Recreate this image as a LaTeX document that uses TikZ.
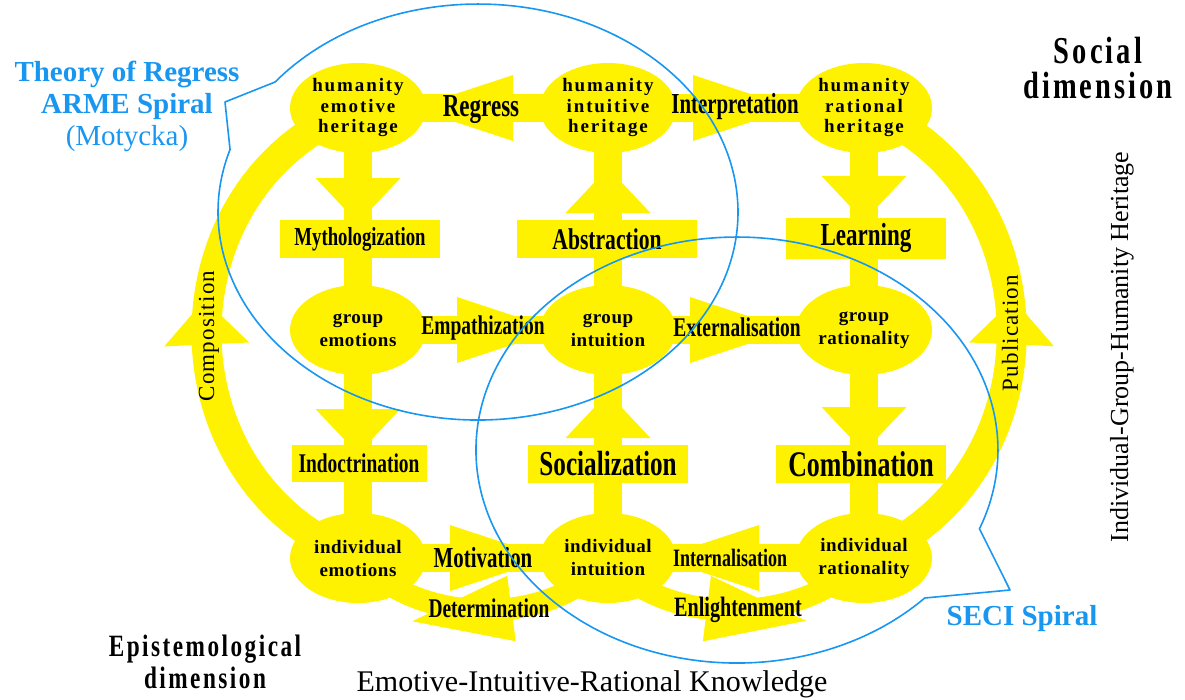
\documentclass[tikz,border=0pt]{standalone}
\usepackage{fontspec}
\setmainfont{Liberation Serif}
\newfontfamily\stagefont[FakeStretch=0.72]{Liberation Serif}
\newfontfamily\humfont[LetterSpace=10]{Liberation Serif}
\newfontfamily\cellfont[LetterSpace=3]{Liberation Serif}
\newfontfamily\loopfont[LetterSpace=5]{Liberation Serif}
\newfontfamily\dimfont[FakeStretch=0.75,LetterSpace=8]{Liberation Serif}
\usetikzlibrary{shapes.geometric,decorations.markings,backgrounds}
\definecolor{spiralblue}{RGB}{25,150,240}
\newcommand\fs[2]{\fontsize{#1}{#2}\selectfont}

\tikzset{
  cell/.style={ellipse, fill=yellow, minimum width=136pt, minimum height=90pt, inner sep=0pt, align=center, font=\cellfont\bfseries\fs{19}{23}},
  hum/.style={font=\humfont\bfseries\fs{19}{20.5}},
  bar/.style={draw=yellow, line width=28pt},
  vhead/.style={postaction={decorate, decoration={markings, mark=at position #1 with {\fill[yellow] (0,-42.5) -- (45,0) -- (0,42.5) -- cycle;}}}},
  hhead/.style={postaction={decorate, decoration={markings, mark=at position #1 with {\fill[yellow] (0,-33) -- (100,0) -- (0,33) -- cycle;}}}},
  stagebox/.style={fill=yellow, minimum height=38pt, inner sep=0pt, font=\stagefont\bfseries},
  stage/.style={inner sep=0pt, font=\stagefont\bfseries},
  callout/.style={draw=spiralblue, line width=1.6pt, line join=round},
  spiral/.style={text=spiralblue, align=center, font=\fs{29}{32}},
  dimtext/.style={align=center, font=\dimfont\bfseries\fs{38}{35}}
}

\begin{document}
\begin{tikzpicture}[x=1pt, y=-1pt]
\useasboundingbox (0,0) rectangle (1185,699);

%% knowledge cells
\node[cell, hum] (he) at (358,108) {humanity\\emotive\\heritage};
\node[cell, hum] (hi) at (608,108) {humanity\\intuitive\\heritage};
\node[cell, hum] (hr) at (864,108) {humanity\\rational\\heritage};
\node[cell] (ge) at (358,330) {group\\emotions};
\node[cell] (gi) at (608,330) {group\\intuition};
\node[cell] (gr) at (864,330) {group\\rationality};
\node[cell] (ie) at (358,558) {individual\\emotions};
\node[cell] (ii) at (608,558) {individual\\intuition};
\node[cell] (ir) at (864,558) {individual\\rationality};

%% flows
\begin{scope}[on background layer]
  \draw[bar, vhead=70pt] (he.center) -- (ge.center);
  \draw[bar, vhead=79pt] (ge.center) -- (ie.center);
  \draw[bar, vhead=117pt] (gi.center) -- (hi.center);
  \draw[bar, vhead=120pt] (ii.center) -- (gi.center);
  \draw[bar, vhead=68pt] (hr.center) -- (gr.center);
  \draw[bar, vhead=77pt] (gr.center) -- (ir.center);
  \draw[bar, hhead=95pt] (hi.center) -- (he.center);
  \draw[bar, hhead=85pt] (hi.center) -- (hr.center);
  \draw[bar, hhead=99pt] (ge.center) -- (gi.center);
  \draw[bar, hhead=82pt] (gi.center) -- (gr.center);
  \draw[bar, hhead=92pt] (ie.center) -- (ii.center);
  \draw[bar, hhead=105pt] (ir.center) -- (ii.center);
  % outer loop
  \draw[bar, line width=30pt, vhead=0.48] (ie.center) .. controls (156,480) and (156,185) .. (he.center);
  \draw[bar, line width=30pt, vhead=0.48] (ir.center) .. controls (1061,480) and (1061,185) .. (hr.center);
  % lower bows
  \draw[bar, line width=22pt, hhead=0.4] (ii.center) .. controls (560,625) and (420,630) .. (ie.center);
  \draw[bar, line width=22pt, hhead=0.4] (ii.center) .. controls (656,625) and (800,630) .. (ir.center);
\end{scope}

%% flow labels
\node[stagebox, minimum width=160pt] (myth) at (360,239) {\fs{26}{26}Mythologization};
\node[stagebox, minimum width=180pt] (abst) at (607,239) {\fs{30}{30}Abstraction};
\node[stagebox, minimum width=160pt, minimum height=41pt] (learn) at (866,238) {\fs{32}{32}Learning};
\node[stagebox, minimum width=135pt, minimum height=37pt] (indoc) at (359,463) {\fs{27}{27}Indoctrination};
\node[stagebox, minimum width=160pt] (social) at (608,464) {\fs{35}{35}Socialization};
\node[stagebox, minimum width=170pt] (comb) at (861,464) {\fs{36}{36}Combination};
\node[stage] (regress) at (481,110) {\fs{32}{32}Regress};
\node[stage] (interp) at (735,107) {\fs{29}{29}Interpretation};
\node[stage] (empath) at (483,328) {\fs{27}{27}Empathization};
\node[stage] (extern) at (737,327) {\fs{27}{27}Externalisation};
\node[stage] (motiv) at (483,558) {\fs{29}{29}Motivation};
\node[stage] (intern) at (730,558) {\fs{25}{25}Internalisation};
\node[stage] (determ) at (489,608) {\fs{27}{27}Determination};
\node[stage] (enlight) at (738,610) {\fs{28}{28}Enlightenment};
\node[rotate=90, font=\loopfont\fs{23}{23}] (compo) at (209,336) {Composition};
\node[rotate=90, font=\loopfont\fs{23}{23}] (publ) at (1010,333) {Publication};

%% spirals
\draw[callout] (275.1,82.0) arc[start angle=218.7, end angle=557.5, x radius=260, y radius=208] -- (225,102) -- cycle;
\draw[callout] (924.7,598.0) arc[start angle=44, end angle=381.7, x radius=261, y radius=213] -- (1010,590) -- cycle;
\node[spiral] (theory) at (127,106) {\textbf{Theory of Regress}\\\textbf{ARME Spiral}\\(Motycka)};
\node[spiral] (seci) at (1022,619) {\textbf{SECI Spiral}};

%% dimensions
\node[dimtext] (socdim) at (1098,68) {Social\\dimension};
\node[dimtext, font=\dimfont\bfseries\fs{31}{32}] (epidim) at (205,662) {Epistemological\\dimension};
\node[font=\fs{30}{30}] (eir) at (592,684) {Emotive-Intuitive-Rational Knowledge};
\node[rotate=90, font=\fs{26}{26}] (igh) at (1122,347) {Individual-Group-Humanity Heritage};
\end{tikzpicture}
\end{document}
